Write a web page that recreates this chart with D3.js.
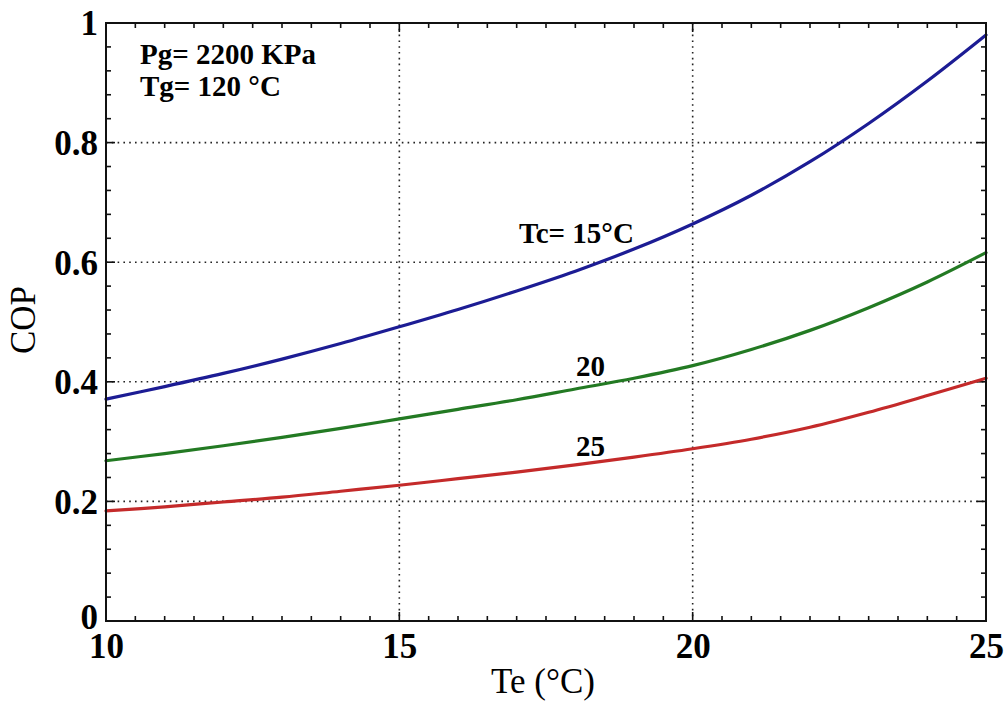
<!DOCTYPE html>
<html>
<head>
<meta charset="utf-8">
<script src="https://cdn.jsdelivr.net/npm/d3@7"></script>
<style>
  html, body { margin: 0; padding: 0; background: #fff; }
  svg { display: block; }
  text { font-family: "Liberation Serif", "Times New Roman", serif; }
</style>
</head>
<body>
<svg id="chart" width="1008" height="704"></svg>
<script>
// ---- data ----
const te = [10, 11, 12, 13, 14, 15, 16, 17, 18, 19, 20, 21, 22, 23, 24, 25];
const copTc15 = [0.371, 0.392, 0.414, 0.438, 0.464, 0.492, 0.521, 0.552, 0.585, 0.622, 0.664, 0.712, 0.768, 0.832, 0.903, 0.980];
const copTc20 = [0.268, 0.280, 0.293, 0.307, 0.322, 0.338, 0.354, 0.370, 0.388, 0.406, 0.427, 0.454, 0.486, 0.524, 0.567, 0.616];
const copTc25 = [0.184, 0.191, 0.199, 0.207, 0.217, 0.227, 0.238, 0.249, 0.261, 0.274, 0.288, 0.304, 0.324, 0.349, 0.377, 0.406];
const xTicks = [10, 15, 20, 25];
const yTicks = [0, 0.2, 0.4, 0.6, 0.8, 1];
const yTickLabels = ["0", "0.2", "0.4", "0.6", "0.8", "1"];
const seriesLabels = ["Tc= 15°C", "20", "25"];
const annotations = ["Pg= 2200 KPa", "Tg= 120 °C"];

// ---- layout ----
const svg = d3.select("#chart");
const L = 106, R = 986, T = 23, B = 621;
const x = d3.scaleLinear().domain([10, 25]).range([L, R]);
const y = d3.scaleLinear().domain([0, 1]).range([B, T]);

// grid (dotted) at inner major ticks
const g = svg.append("g");
g.selectAll(".gx").data(xTicks.filter(d => d > 10 && d < 25)).enter().append("line")
  .attr("x1", d => x(d)).attr("x2", d => x(d)).attr("y1", T).attr("y2", B)
  .attr("stroke", "#222").attr("stroke-width", 1.6).attr("stroke-dasharray", "1.6,4.2");
g.selectAll(".gy").data(yTicks.filter(d => d > 0 && d < 1)).enter().append("line")
  .attr("x1", L).attr("x2", R).attr("y1", d => y(d)).attr("y2", d => y(d))
  .attr("stroke", "#222").attr("stroke-width", 1.6).attr("stroke-dasharray", "1.6,4.2");

// minor + major ticks on all four sides, pointing inward
const xMinor = d3.range(10, 25.001, 0.5);
const yMinor = d3.range(0, 1.0001, 0.04);
const isMajorX = d => Math.abs(d - Math.round(d / 5) * 5) < 1e-6;
const isMajorY = d => Math.abs(d * 5 - Math.round(d * 5)) < 1e-6;
const tk = svg.append("g").attr("stroke", "#111").attr("stroke-width", 1.6);
xMinor.forEach(d => {
  const len = isMajorX(d) ? 9 : 5;
  tk.append("line").attr("x1", x(d)).attr("x2", x(d)).attr("y1", B).attr("y2", B - len);
  tk.append("line").attr("x1", x(d)).attr("x2", x(d)).attr("y1", T).attr("y2", T + len);
});
yMinor.forEach(d => {
  const len = isMajorY(d) ? 9 : 5;
  tk.append("line").attr("y1", y(d)).attr("y2", y(d)).attr("x1", L).attr("x2", L + len);
  tk.append("line").attr("y1", y(d)).attr("y2", y(d)).attr("x1", R).attr("x2", R - len);
});

// curves
const line = d3.line().x(d => x(d[0])).y(d => y(d[1])).curve(d3.curveCatmullRom.alpha(0.5));
const series = [
  { vals: copTc15, color: "#1c1c94" },
  { vals: copTc20, color: "#237a23" },
  { vals: copTc25, color: "#c42a2a" }
];
series.forEach(s => {
  svg.append("path")
    .datum(te.map((t, i) => [t, s.vals[i]]))
    .attr("d", line)
    .attr("fill", "none")
    .attr("stroke", s.color)
    .attr("stroke-width", 3.2)
    .attr("stroke-linecap", "round");
});

// frame
svg.append("rect").attr("x", L).attr("y", T).attr("width", R - L).attr("height", B - T)
  .attr("fill", "none").attr("stroke", "#111").attr("stroke-width", 2);

// axes labels using d3 axis for tick texts
const xAxis = d3.axisBottom(x).tickValues(xTicks).tickSize(0).tickPadding(0).tickFormat(d3.format("d"));
const xg = svg.append("g").attr("transform", `translate(0,${B})`).call(xAxis);
xg.select(".domain").remove();
xg.selectAll("text").attr("dy", null).attr("y", 37)
  .style("font-family", '"Liberation Serif", "Times New Roman", serif')
  .style("font-size", "35px").style("font-weight", "bold").attr("fill", "#000");

const yAxis = d3.axisLeft(y).tickValues(yTicks).tickSize(0).tickPadding(0)
  .tickFormat((d, i) => yTickLabels[i]);
const yg = svg.append("g").attr("transform", `translate(${L - 8},0)`).call(yAxis);
yg.select(".domain").remove();
yg.selectAll("text").attr("x", 0).attr("dy", d => d === 0 ? "0.22em" : "0.34em")
  .style("font-family", '"Liberation Serif", "Times New Roman", serif')
  .style("font-size", "35px").style("font-weight", "bold").attr("fill", "#000");

// axis titles
svg.append("text").attr("x", (L + R) / 2 - 3).attr("y", 693).attr("text-anchor", "middle")
  .style("font-size", "35px").text("Te (°C)");
svg.append("text").attr("transform", `translate(35,320) rotate(-90)`)
  .attr("text-anchor", "middle").style("font-size", "35px").text("COP");

// annotations
svg.append("text").attr("x", 140).attr("y", 64).style("font-size", "29px").style("font-weight", "bold").text(annotations[0]);
svg.append("text").attr("x", 140).attr("y", 96).style("font-size", "29px").style("font-weight", "bold").text(annotations[1]);

// series labels
svg.append("text").attr("x", 519).attr("y", 243).style("font-size", "29px").style("font-weight", "bold").text(seriesLabels[0]);
svg.append("text").attr("x", 576).attr("y", 376).style("font-size", "29px").style("font-weight", "bold").text(seriesLabels[1]);
svg.append("text").attr("x", 576).attr("y", 456).style("font-size", "29px").style("font-weight", "bold").text(seriesLabels[2]);
</script>
</body>
</html>
